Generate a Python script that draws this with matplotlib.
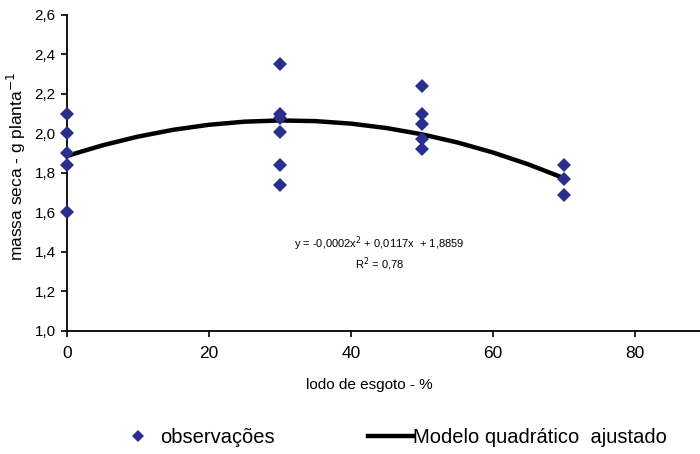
import numpy as np
import matplotlib.pyplot as plt
from matplotlib.lines import Line2D

# lodo de esgoto (%) e massa seca observada
dose_0 = [2.10, 2.00, 1.90, 1.84, 1.60]
dose_30 = [2.35, 2.10, 2.08, 2.01, 1.84, 1.74]
dose_50 = [2.24, 2.10, 2.05, 1.97, 1.92]
dose_70 = [1.84, 1.77, 1.69]
doses = [0, 30, 50, 70]
obs = [dose_0, dose_30, dose_50, dose_70]

# modelo quadratico ajustado
coef = [-0.00019, 0.0117, 1.8859]
r2 = 0.78

plt.rcParams['font.family'] = ['Liberation Sans', 'DejaVu Sans']

fig = plt.figure(figsize=(7, 4.54), dpi=100)
ax = fig.add_axes([0.0953, 0.271, 0.905, 0.696])

for d, vals in zip(doses, obs):
    ax.plot([d] * len(vals), vals, 'D', color='#2a2e8c', markersize=7.5,
            markeredgewidth=0, zorder=3, clip_on=False)

xs = np.linspace(0, 70, 15)
ax.plot(xs, np.polyval(coef, xs), color='black', lw=3.2, zorder=2)

ax.set_xlim(0, 89.2)
ax.set_ylim(1.0, 2.6)
ax.set_xticks([0, 20, 40, 60, 80])
ax.set_yticks(np.arange(1.0, 2.61, 0.2))
ax.set_yticklabels([f'{v:.1f}'.replace('.', ',') for v in np.arange(1.0, 2.61, 0.2)],
                   fontsize=11)
ax.set_xticklabels(['0', '20', '40', '60', '80'], fontsize=12.5)
ax.tick_params(direction='out', length=4, width=1.2, color='black', pad=4)
ax.tick_params(axis='x', pad=7)
for s in ['top', 'right']:
    ax.spines[s].set_visible(False)
for s in ['left', 'bottom']:
    ax.spines[s].set_linewidth(1.3)

fig.text(0.024, 0.634, 'massa seca - g planta$^{-1}$', rotation=90,
         ha='center', va='center', fontsize=12.5)
fig.text(0.528, 0.152, 'lodo de esgoto - %', ha='center', va='center',
         fontsize=11)

a, b, c = coef
eq = (f'y = {a:.4f}x$^2$ + {b:.4f}x  + {c:.4f}').replace('.', ',')
ax.text(44, 1.44, eq, ha='center', va='center', fontsize=8)
ax.text(44, 1.34, f'R$^2$ = {r2:.2f}'.replace('.', ','), ha='center',
        va='center', fontsize=8)

handles = [Line2D([], [], ls='none', marker='D', color='#2a2e8c',
                  markersize=6, markeredgewidth=0),
           Line2D([], [], color='black', lw=3.2)]
fig.legend(handles, ['observações', 'Modelo quadrático  ajustado'],
           loc='center left', bbox_to_anchor=(0.165, 0.037), ncol=2,
           frameon=False, borderpad=0, borderaxespad=0,
           prop={'size': 14.5}, handlelength=2.24,
           handletextpad=0.0, columnspacing=4.6)

fig.savefig('out.png', dpi=100)
